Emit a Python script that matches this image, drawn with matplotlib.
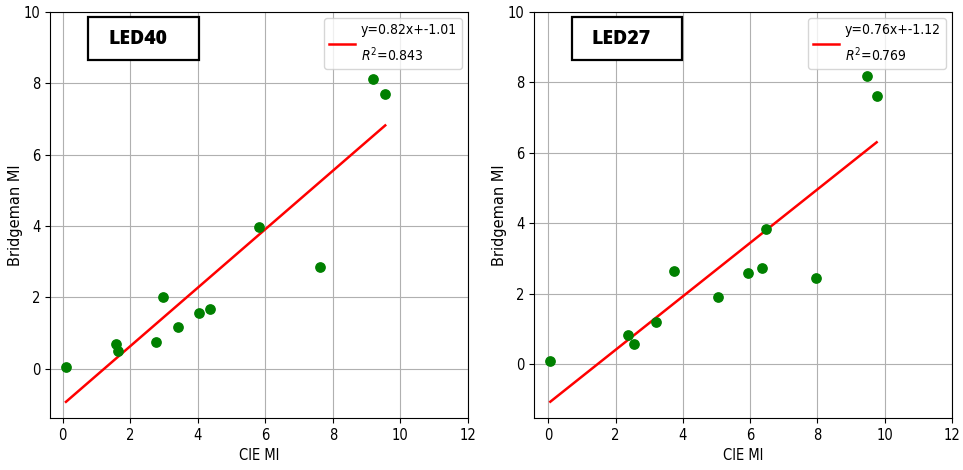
import matplotlib
matplotlib.use("Agg")
import matplotlib.pyplot as plt
from matplotlib.patches import Rectangle
import numpy as np

# LED40 measurements
led40_cie = [0.10, 1.58, 1.65, 2.77, 2.98, 3.41, 4.05, 4.36, 5.81, 7.62, 9.18, 9.55]
led40_bridgeman = [0.06, 0.68, 0.50, 0.75, 2.01, 1.18, 1.57, 1.67, 3.96, 2.84, 8.13, 7.69]
led40_slope, led40_intercept, led40_r2 = 0.82, -1.01, 0.843

# LED27 measurements
led27_cie = [0.06, 2.38, 2.54, 3.19, 3.75, 5.05, 5.95, 6.35, 6.48, 7.96, 9.46, 9.76]
led27_bridgeman = [0.07, 0.83, 0.57, 1.18, 2.65, 1.91, 2.58, 2.72, 3.84, 2.43, 8.18, 7.60]
led27_slope, led27_intercept, led27_r2 = 0.76, -1.12, 0.769

panels = [
    ("LED40", led40_cie, led40_bridgeman, led40_slope, led40_intercept, led40_r2),
    ("LED27", led27_cie, led27_bridgeman, led27_slope, led27_intercept, led27_r2),
]

plt.rcParams["font.family"] = "DejaVu Sans"
plt.rcParams["font.stretch"] = "condensed"

W, H = 963, 470
fig = plt.figure(figsize=(W / 100, H / 100), dpi=100)

axes_px = [(50, 12, 468, 418), (534, 12, 952, 418)]
box_px = [(88, 17, 199, 60), (572, 17, 682, 60)]

for (name, xs, ys, m, b, r2), (x0, y0, x1, y1), (bx0, by0, bx1, by1) in zip(panels, axes_px, box_px):
    ax = fig.add_axes([x0 / W, 1 - y1 / H, (x1 - x0) / W, (y1 - y0) / H])
    xs = np.asarray(xs)
    ax.scatter(xs, ys, s=45, color="green", zorder=3)
    xfit = np.array([xs.min(), xs.max()])
    ax.plot(xfit, m * xfit + b, color="red", lw=1.8, zorder=2,
            label=f"y={m:.2f}x+{b:.2f}\n$R^2$={r2:.3f}")
    ax.autoscale_view()
    ax.set_xlim(right=12)
    ax.set_ylim(top=10)
    ax.set_xticks(range(0, 13, 2))
    ax.set_yticks(range(0, 11, 2))
    ax.grid(True, color="#b0b0b0", lw=0.8)
    ax.set_axisbelow(True)
    ax.tick_params(labelsize=10.5)
    ax.set_xlabel("CIE MI", fontsize=10.5)
    ax.set_ylabel("Bridgeman MI", fontsize=10.5, stretch="normal")
    ax.yaxis.set_label_coords(-0.065, 0.5)
    leg = ax.legend(loc="upper right", fontsize=10, handlelength=1.9,
                    handletextpad=0.4, borderpad=0.35,
                    labelspacing=0.5, borderaxespad=0.45)
    for t in leg.get_texts():
        t.set_linespacing(1.55)

    fig.patches.append(Rectangle((bx0 / W, 1 - by1 / H), (bx1 - bx0) / W, (by1 - by0) / H,
                                 transform=fig.transFigure, fill=True, facecolor="white",
                                 edgecolor="black", lw=1.6, zorder=5))
    fig.text((bx0 + bx1) / 2 / W - 0.006, 1 - (by0 + by1) / 2 / H, name,
             ha="center", va="center", fontsize=14, fontweight="heavy",
             family="Open Sans", stretch="normal", zorder=6)

fig.savefig("out.png", dpi=100)
